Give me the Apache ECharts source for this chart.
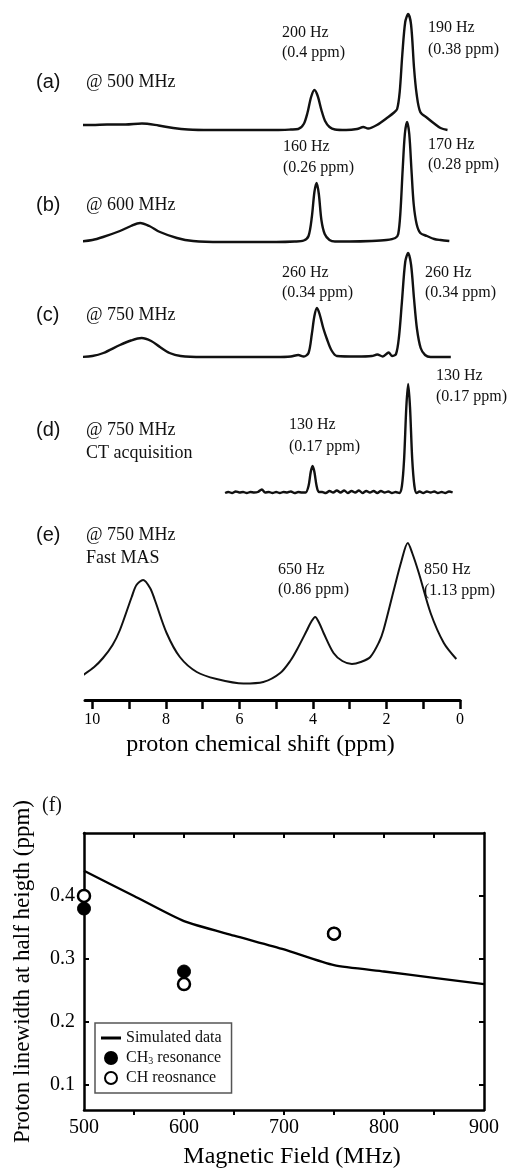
<!DOCTYPE html>
<html>
<head>
<meta charset="utf-8">
<script src="https://cdn.jsdelivr.net/npm/echarts@6/dist/echarts.min.js"></script>
<style>
  html, body { margin: 0; padding: 0; background: #fff; }
  #main { width: 512px; height: 1170px; }
</style>
</head>
<body>
<div id="main"></div>
<script>
// spectra: [ppm, intensity] (arbitrary units)
var specA = [[10.4,5],[10.0,5],[9.6,5.5],[9.1,5.5],[8.65,6.5],[8.2,4.5],[7.8,2],[7.4,0.5],[6.8,0],[6.0,0],[5.0,0],[4.6,0.5],[4.4,1],
  [4.25,6],[4.15,17],[4.05,33],[3.96,40],[3.87,34],[3.77,20],[3.67,9],[3.55,3],[3.4,0.5],[3.1,0],[2.8,1],[2.63,3],[2.5,1.5],
  [2.26,5],[1.95,13],[1.81,17],[1.71,21],[1.64,38],[1.57,75],[1.49,108],[1.41,116],[1.33,105],[1.25,62],[1.18,36],[1.08,18],
  [0.89,12],[0.72,7],[0.53,2],[0.34,0]];
var specB = [[10.43,0],[10.0,2],[9.71,5],[9.25,11],[8.95,16],[8.7,19],[8.45,16],[8.16,10],[7.7,4],[7.26,1],[6.5,0],[5.0,0],
  [4.5,0.5],[4.25,1.5],[4.12,6],[4.03,25],[3.96,50],[3.9,59],[3.84,48],[3.77,22],[3.68,8],[3.55,2],[3.4,0.5],[3.0,0.5],
  [2.4,1],[2.0,2],[1.76,4],[1.68,8],[1.62,30],[1.56,72],[1.5,108],[1.44,120],[1.38,108],[1.32,72],[1.26,38],[1.18,18],
  [1.08,9],[0.9,6],[0.7,3],[0.53,2],[0.29,1]];
var specC = [[10.34,0],[10.0,1],[9.7,4],[9.25,12],[8.95,16.5],[8.66,19],[8.4,16],[8.16,10],[7.9,4],[7.6,1],[7.0,0],[5.0,0],
  [4.6,0.5],[4.4,2],[4.25,0.5],[4.12,4],[4.03,23],[3.96,41],[3.89,49],[3.82,43],[3.72,29],[3.62,18],[3.5,7],[3.35,1],
  [2.8,0.5],[2.4,1],[2.25,2.5],[2.1,0.5],[1.94,4.5],[1.85,1],[1.74,3],[1.66,20],[1.58,55],[1.49,95],[1.41,104],[1.33,92],
  [1.25,58],[1.17,28],[1.07,9],[0.95,2],[0.8,0],[0.25,0]];
var specD = [[6.39,0],[6.3,1],[6.2,0],[6.1,1.5],[6.0,0.5],[5.9,1],[5.8,0],[5.7,1],[5.6,0.5],[5.5,1],[5.39,3.5],[5.3,0.5],
  [5.2,1],[5.1,0],[5.0,1],[4.9,0],[4.8,1],[4.7,0.5],[4.6,1.5],[4.5,0],[4.4,1],[4.3,0.5],[4.2,0.5],[4.12,7],[4.06,21],
  [4.01,27],[3.96,21],[3.9,7],[3.84,1],[3.75,1],[3.65,0],[3.55,2],[3.45,0.5],[3.35,2.5],[3.25,0.5],[3.15,2.5],[3.05,0],
  [2.95,2],[2.85,0.5],[2.75,2.5],[2.65,0],[2.55,2],[2.45,0.5],[2.35,2],[2.25,0],[2.15,2],[2.05,0.5],[1.95,1.5],[1.85,0],
  [1.75,1],[1.65,0],[1.58,7],[1.52,34],[1.46,86],[1.41,109],[1.36,86],[1.3,34],[1.24,7],[1.18,0],[1.1,1.5],[1.0,0],
  [0.9,1.5],[0.8,0.5],[0.7,1.5],[0.6,0],[0.5,1],[0.4,0],[0.3,1.5],[0.2,0.5]];
var specE = [[10.25,25],[9.95,33],[9.71,42],[9.45,55],[9.25,70],[8.93,103],[8.8,115],[8.62,120],[8.43,112],[8.3,100],
  [7.98,67],[7.62,43],[7.16,28],[6.62,21],[5.89,16.5],[5.35,18],[4.89,27],[4.6,40],[4.44,50],[4.16,70],[4.05,78],
  [3.94,83],[3.83,77],[3.71,67],[3.44,47],[3.2,39],[2.94,36],[2.7,38],[2.44,43],[2.2,58],[2.08,70],[1.8,110],[1.6,138],
  [1.42,157],[1.3,147],[1.12,127],[0.8,87],[0.44,57],[0.1,41]];
var spectra = [specA, specB, specC, specD, specE];

var panelTags = ['(a)', '(b)', '(c)', '(d)', '(e)'];
var fieldTexts = ['@ 500 MHz', '@ 600 MHz', '@ 750 MHz', '@ 750 MHz', '@ 750 MHz'];
var extraTexts = ['', '', '', 'CT acquisition', 'Fast MAS'];
var peakHz4 = ['200 Hz', '160 Hz', '260 Hz', '130 Hz', '650 Hz'];
var peakPpm4 = ['(0.4 ppm)', '(0.26 ppm)', '(0.34 ppm)', '(0.17 ppm)', '(0.86 ppm)'];
var peakHz1 = ['190 Hz', '170 Hz', '260 Hz', '130 Hz', '850 Hz'];
var peakPpm1 = ['(0.38 ppm)', '(0.28 ppm)', '(0.34 ppm)', '(0.17 ppm)', '(1.13 ppm)'];
var shiftTicks = [0, 1, 2, 3, 4, 5, 6, 7, 8, 9, 10];
var shiftLabels = [0, 2, 4, 6, 8, 10];

// panel (f)
var fields = [500, 600, 750];
var ch3Width = [0.38, 0.28, 0.34];
var chWidth = [0.40, 0.26, 0.34];
var simField = [500, 550, 600, 650, 700, 750, 800, 850, 900];
var simWidth = [0.44, 0.40, 0.36, 0.337, 0.315, 0.29, 0.28, 0.27, 0.26];
var fieldTicks = [550, 600, 650, 700, 750, 800, 850];
var widthTicks = [0.1, 0.2, 0.3, 0.4];

var SERIF = '"Liberation Serif", "Times New Roman", serif';
var SANS = '"Liberation Sans", Arial, sans-serif';

var myChart = echarts.init(document.getElementById('main'));

// layout of the stacked spectra (baseline y, height)
var bases = [130, 242, 357, 493, 700];
var heights = [120, 120, 120, 120, 170];

var grids = [], xAxes = [], yAxes = [], series = [];
for (var i = 0; i < 5; i++) {
	grids.push({ left: 85, width: 375, top: bases[i] - heights[i], height: heights[i] });
	var ax = { type: 'value', gridIndex: i, min: 0, max: 10.2, inverse: true, show: i === 4 };
	if (i === 4) {
		ax.axisLine = { lineStyle: { color: '#000', width: 3 } };
		ax.axisTick = { show: true, inside: false, length: 9, customValues: shiftTicks, lineStyle: { color: '#000', width: 2.5 } };
		ax.axisLabel = { customValues: shiftLabels, margin: 12, color: '#000', fontFamily: SERIF, fontSize: 16 };
		ax.splitLine = { show: false };
		ax.name = 'proton chemical shift (ppm)';
		ax.nameLocation = 'middle';
		ax.nameGap = 33;
		ax.nameTextStyle = { color: '#000', fontFamily: SERIF, fontSize: 24, padding: [0, 24, 0, 0] };
	}
	xAxes.push(ax);
	yAxes.push({ type: 'value', gridIndex: i, min: 0, max: heights[i], show: false });
	series.push({
		name: panelTags[i] + ' ' + fieldTexts[i],
		type: 'line', xAxisIndex: i, yAxisIndex: i,
		data: spectra[i], symbol: 'none', smooth: 0.3, clip: false, silent: true,
		lineStyle: { color: '#111', width: i === 4 ? 2 : 2.4 }
	});
}

// panel (f) grid index 5
grids.push({ left: 84, top: 833, width: 400, height: 277 });
var frame = { lineStyle: { color: '#000', width: 2.5 } };
xAxes.push({
	type: 'value', gridIndex: 5, min: 500, max: 900, interval: 100, position: 'bottom',
	axisLine: frame,
	axisTick: { inside: false, length: 5, customValues: fieldTicks, lineStyle: { color: '#000', width: 2 } },
	axisLabel: { color: '#000', fontFamily: SERIF, fontSize: 20, margin: 8 },
	splitLine: { show: false },
	name: 'Magnetic Field (MHz)', nameLocation: 'middle', nameGap: 35,
	nameTextStyle: { color: '#000', fontFamily: SERIF, fontSize: 24, padding: [0, 0, 0, 16] }
});
xAxes.push({
	type: 'value', gridIndex: 5, min: 500, max: 900, interval: 100, position: 'top',
	axisLine: frame,
	axisTick: { inside: true, length: 5, customValues: fieldTicks, lineStyle: { color: '#000', width: 2 } },
	axisLabel: { show: false }, splitLine: { show: false }
});
yAxes.push({
	type: 'value', gridIndex: 5, min: 0.06, max: 0.5, position: 'left',
	axisLine: { show: true, lineStyle: { color: '#000', width: 2.5 } },
	axisTick: { show: true, inside: true, length: 5, customValues: widthTicks, lineStyle: { color: '#000', width: 2 } },
	axisLabel: { customValues: widthTicks, color: '#000', fontFamily: SERIF, fontSize: 20, margin: 9,
		formatter: function (v) { return v.toFixed(1); } },
	splitLine: { show: false },
	name: 'Proton linewidth at half heigth (ppm)', nameLocation: 'middle', nameGap: 50,
	nameTextStyle: { color: '#000', fontFamily: SERIF, fontSize: 23 }
});
yAxes.push({
	type: 'value', gridIndex: 5, min: 0.06, max: 0.5, position: 'right',
	axisLine: { show: true, lineStyle: { color: '#000', width: 2.5 } },
	axisTick: { show: true, inside: true, length: 5, customValues: widthTicks, lineStyle: { color: '#000', width: 2 } },
	axisLabel: { show: false }, splitLine: { show: false }
});

function pairs(xs, ys) {
	return xs.map(function (x, k) { return [x, ys[k]]; });
}

series.push({
	name: 'Simulated data', type: 'line', xAxisIndex: 5, yAxisIndex: 5,
	data: pairs(simField, simWidth), symbol: 'none', smooth: 0.2,
	lineStyle: { color: '#000', width: 2.3 }, itemStyle: { color: '#000' }
});
series.push({
	name: 'CH3 resonance', type: 'scatter', xAxisIndex: 5, yAxisIndex: 5, clip: false,
	data: pairs(fields, ch3Width), symbolSize: 13,
	itemStyle: { color: '#000', borderColor: '#000', borderWidth: 1, opacity: 1 }
});
series.push({
	name: 'CH reosnance', type: 'scatter', xAxisIndex: 5, yAxisIndex: 5, clip: false,
	data: pairs(fields, chWidth), symbolSize: 12, z: 3,
	itemStyle: { color: '#fff', borderColor: '#000', borderWidth: 2.5, opacity: 1 }
});

// text annotations
var graphics = [];
function txt(t, x, y, font) {
	graphics.push({ type: 'text', x: x, y: y, z: 100,
		style: { text: t, font: font, fill: '#111', verticalAlign: 'middle', align: 'left' } });
}
var tagY = [82, 205, 315, 430, 535];
var leftLbl = [[282, 33, 53], [283, 147, 168], [282, 273, 293], [289, 425, 447], [278, 570, 590]];
var rightLbl = [[428, 28, 50], [428, 145, 165], [425, 273, 293], [436, 376, 397], [424, 570, 591]];
for (var j = 0; j < 5; j++) {
	txt(panelTags[j], 36, tagY[j], '20px ' + SANS);
	txt(fieldTexts[j], 86, tagY[j], '18px ' + SERIF);
	if (extraTexts[j]) txt(extraTexts[j], 86, tagY[j] + 23, '18px ' + SERIF);
	txt(peakHz4[j], leftLbl[j][0], leftLbl[j][1], '16px ' + SERIF);
	txt(peakPpm4[j], leftLbl[j][0], leftLbl[j][2], '16px ' + SERIF);
	txt(peakHz1[j], rightLbl[j][0], rightLbl[j][1], '16px ' + SERIF);
	txt(peakPpm1[j], rightLbl[j][0], rightLbl[j][2], '16px ' + SERIF);
}
txt('(f)', 42, 806, '20px ' + SERIF);

var option = {
	backgroundColor: '#fff',
	animation: false,
	grid: grids,
	xAxis: xAxes,
	yAxis: yAxes,
	series: series,
	legend: {
		data: [
			{ name: 'Simulated data', icon: 'path://M0,0 L20,0 L20,3 L0,3 Z' },
			'CH3 resonance', 'CH reosnance'
		],
		orient: 'vertical', left: 95, top: 1023,
		backgroundColor: '#fff', borderColor: '#555', borderWidth: 1.5,
		padding: [7, 10, 7, 6], itemGap: 4, itemWidth: 20, itemHeight: 12,
		textStyle: { color: '#111', fontFamily: SERIF, fontSize: 16,
			rich: { sub: { fontFamily: SERIF, fontSize: 10, verticalAlign: 'bottom', lineHeight: 10 } } },
		formatter: function (name) {
			if (name === 'CH3 resonance') return 'CH{sub|3} resonance';
			return name;
		}
	},
	graphic: graphics
};

myChart.setOption(option);
</script>
</body>
</html>
